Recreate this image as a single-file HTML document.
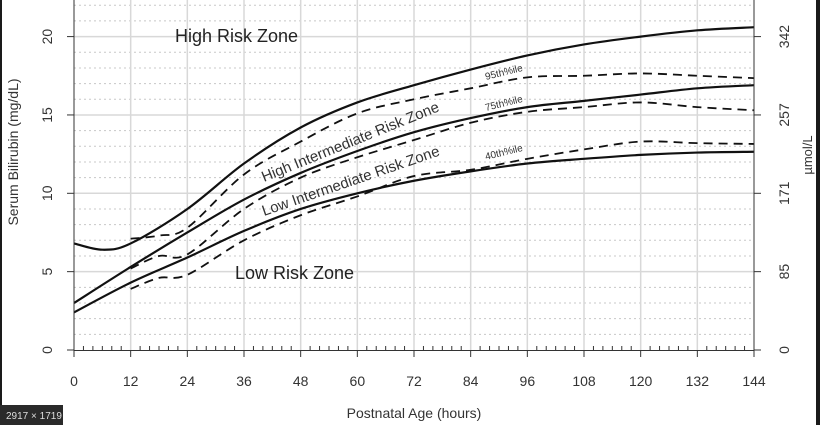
<!DOCTYPE html>
<html><head><meta charset="utf-8"><style>
html,body{margin:0;padding:0;background:#fff;}
svg{display:block;font-family:"Liberation Sans",sans-serif;}
</style></head><body>
<svg id="s" width="820" height="425" viewBox="0 0 820 425" xmlns="http://www.w3.org/2000/svg">
<rect x="0" y="0" width="820" height="425" fill="#fff"/>
<rect x="0" y="0" width="2" height="425" fill="#1a1a1a"/>
<rect x="816" y="0" width="4" height="425" fill="#1a1a1a"/>
<g id="grid"></g>
<g id="curves" fill="none" stroke="#111"></g>
<line x1="74" y1="0" x2="74" y2="351" stroke="#333" stroke-width="1"/>
<line x1="754" y1="0" x2="754" y2="351" stroke="#333" stroke-width="1"/>
<line x1="74" y1="350.5" x2="754" y2="350.5" stroke="#333" stroke-width="1"/>
<g id="ticks" stroke="#333"></g>
<g id="labels" fill="#333" font-size="14"></g>
<text x="175" y="42" font-size="18" fill="#222">High Risk Zone</text>
<text x="235" y="279" font-size="18" fill="#222">Low Risk Zone</text>
<text transform="translate(264,182) rotate(-22)" font-size="15" fill="#333">High Intermediate Risk Zone</text>
<text transform="translate(264,216) rotate(-19)" font-size="15" fill="#333">Low Intermediate Risk Zone</text>
<text transform="translate(486,80) rotate(-14)" font-size="10" fill="#333">95th%ile</text>
<text transform="translate(486,111) rotate(-14)" font-size="10" fill="#333">75th%ile</text>
<text transform="translate(486,160) rotate(-14)" font-size="10" fill="#333">40th%ile</text>
<text x="414" y="418" font-size="14" fill="#333" text-anchor="middle">Postnatal Age (hours)</text>
<text transform="translate(18,152) rotate(-90)" font-size="14" fill="#333" text-anchor="middle">Serum Bilirubin (mg/dL)</text>
<text transform="translate(812,155) rotate(-90)" font-size="13" fill="#333" text-anchor="middle">µmol/L</text>
<rect x="0" y="405" width="63" height="20" fill="#2a2a2a"/>
<text x="6" y="419" font-size="10" fill="#ddd">2917 × 1719</text>
</svg>
<script>
var X=function(h){return 74+h*680/144;}, Y=function(v){return 350-v*15.67;};
var NS="http://www.w3.org/2000/svg";
function el(p,t,a,txt){var e=document.createElementNS(NS,t);for(var k in a)e.setAttribute(k,a[k]);if(txt!==undefined)e.textContent=txt;document.getElementById(p).appendChild(e);return e;}
for(var v=1;v<=22;v++){if(v%5)el("grid","line",{x1:74,x2:754,y1:Y(v),y2:Y(v),stroke:"#c8c8c8","stroke-width":1,"stroke-dasharray":"2,3"});}
for(var v=5;v<=20;v+=5)el("grid","line",{x1:74,x2:754,y1:Y(v),y2:Y(v),stroke:"#d8d8d8","stroke-width":1.5});
for(var h=12;h<144;h+=12)el("grid","line",{x1:X(h),x2:X(h),y1:0,y2:350,stroke:"#d8d8d8","stroke-width":1.5});
for(var h=0;h<=144;h+=12){el("ticks","line",{x1:X(h),x2:X(h),y1:350,y2:357,"stroke-width":1});el("labels","text",{x:X(h),y:386,"text-anchor":"middle"},h);}
for(var h=2;h<144;h+=2){if(h%12)el("ticks","line",{x1:X(h),x2:X(h),y1:350,y2:346,"stroke-width":1});}
var rl=["0","85","171","257","342"];
for(var i=0;i<=4;i++){var v=i*5;el("ticks","line",{x1:67,x2:74,y1:Y(v),y2:Y(v)});el("ticks","line",{x1:754,x2:761,y1:Y(v),y2:Y(v)});
el("labels","text",{transform:"translate(52,"+Y(v)+") rotate(-90)","text-anchor":"middle"},v);
el("labels","text",{transform:"translate(789,"+Y(v)+") rotate(-90)","text-anchor":"middle"},rl[i]);}
function path(pts){var p=pts.map(function(q){return [X(q[0]),Y(q[1])];});var d="M"+p[0][0]+","+p[0][1];
for(var i=0;i<p.length-1;i++){var p0=p[i-1]||p[i],p1=p[i],p2=p[i+1],p3=p[i+2]||p2;
d+=" C"+(p1[0]+(p2[0]-p0[0])/6)+","+(p1[1]+(p2[1]-p0[1])/6)+" "+(p2[0]-(p3[0]-p1[0])/6)+","+(p2[1]-(p3[1]-p1[1])/6)+" "+p2[0]+","+p2[1];}return d;}
var solid=[
[[0,6.8],[6,6.4],[12,6.8],[24,9.0],[36,11.9],[48,14.2],[60,15.8],[72,16.9],[84,17.9],[96,18.8],[108,19.5],[120,20.0],[132,20.4],[144,20.6]],
[[0,3.0],[12,5.3],[24,7.5],[36,9.6],[48,11.3],[60,12.7],[72,13.9],[84,14.8],[96,15.5],[108,15.9],[120,16.3],[132,16.7],[144,16.9]],
[[0,2.4],[12,4.3],[24,5.9],[36,7.6],[48,9.0],[60,10.0],[72,10.8],[84,11.4],[96,11.9],[108,12.2],[120,12.45],[132,12.6],[144,12.65]]];
var dash=[
[[12,7.1],[18,7.3],[24,7.8],[36,11.2],[48,13.3],[60,15.1],[72,16.0],[84,16.7],[96,17.4],[108,17.5],[120,17.65],[132,17.5],[144,17.35]],
[[12,5.2],[18,6.0],[24,6.1],[36,9.0],[48,11.0],[60,12.3],[72,13.4],[84,14.5],[96,15.2],[108,15.5],[120,15.8],[132,15.5],[144,15.3]],
[[12,3.9],[18,4.6],[24,4.8],[36,7.0],[48,8.6],[60,9.8],[72,11.1],[84,11.5],[96,12.2],[108,12.8],[120,13.3],[132,13.2],[144,13.15]]];
solid.forEach(function(s){el("curves","path",{d:path(s),"stroke-width":2.2});});
dash.forEach(function(s){el("curves","path",{d:path(s),"stroke-width":1.8,"stroke-dasharray":"9,6"});});
</script>
</body></html>
